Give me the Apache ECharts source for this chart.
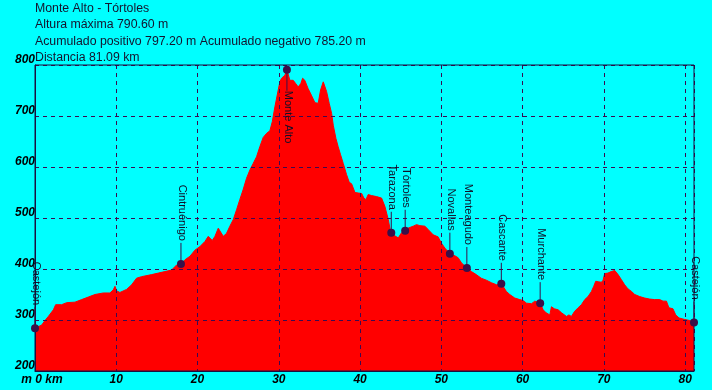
<!DOCTYPE html>
<html>
<head>
<meta charset="utf-8">
<script src="https://cdn.jsdelivr.net/npm/echarts@6/dist/echarts.min.js"></script>
<style>
html,body{margin:0;padding:0;background:#00ffff;}
#chart{width:712px;height:390px;}
</style>
</head>
<body>
<div id="chart"></div>
<script>
const titleLines = [
  'Monte Alto - Tórtoles',
  'Altura máxima 790.60 m',
  'Acumulado positivo 797.20 m Acumulado negativo 785.20 m',
  'Distancia 81.09 km'
];

// [km, elevation m]
const profile = [
[0,284],[0.82,290],[1.23,299],[1.64,307],[2.26,320],[2.54,330],[3.28,330],[3.9,334],[4.92,335],[5.74,340],[6.56,345],[7.38,350],[8.4,353],[9.22,353],[9.63,359],[9.84,366],[10.05,357],[10.45,354],[11.27,360],[11.89,369],[12.5,382],[13.12,385],[14.35,389],[15.17,392],[15.99,395],[16.81,398],[17.43,408],[17.96,410],[18.45,418],[19.07,425],[19.68,437],[20.3,444],[20.91,454],[21.32,464],[21.52,466],[21.81,456],[22.14,464],[22.55,480],[22.76,477],[23.17,464],[23.57,470],[23.98,484],[24.4,497],[24.8,516],[25.2,536],[25.6,555],[26.03,578],[26.44,594],[26.85,607],[27.26,620],[27.67,640],[28.08,658],[28.5,666],[28.9,671],[29.2,689],[29.52,718],[29.93,751],[30.13,767],[30.34,774],[30.54,774],[30.75,780],[31.0,790.6],[31.36,770],[31.77,770],[32.06,764],[32.39,757],[32.72,764],[32.93,774],[33.2,770],[33.6,754],[34.0,741],[34.45,726],[34.85,725],[35.14,751],[35.47,767],[35.67,767],[35.88,748],[36.2,725],[36.5,705],[36.7,682],[37.03,656],[37.3,640],[37.6,624],[37.93,607],[38.34,585],[38.67,570],[38.96,567],[39.37,550],[39.78,549],[40.2,548],[40.47,539],[40.72,536],[41.0,546],[41.4,544],[42.03,542],[42.65,539],[43.05,523],[43.47,497],[43.67,480],[43.84,471],[44.28,465],[44.7,461],[44.9,458],[45.1,471],[45.55,475],[45.9,480],[46.54,484],[46.95,487],[47.36,485],[47.98,484],[48.4,477],[49.0,467],[49.6,463],[50.0,451],[50.43,441],[51.05,430],[51.66,426],[52.07,422],[52.48,412],[53.14,402],[53.7,395],[54.3,389],[54.9,382],[55.55,378],[56.17,373],[56.8,369],[57.38,371],[57.6,366],[58.0,356],[58.42,350],[59.04,343],[59.65,340],[60.07,338],[60.48,333],[61.1,332],[61.5,337],[62.16,333],[62.53,320],[62.9,314],[63.35,310],[63.55,326],[63.9,322],[64.37,320],[64.8,314],[65.4,307],[65.7,310],[66.0,307],[66.2,304],[66.4,317],[66.83,324],[67.23,330],[67.65,340],[68.05,346],[68.47,356],[68.75,366],[69.0,376],[69.3,375],[69.7,374],[69.9,378],[70.1,391],[70.5,392],[70.9,395],[71.34,397],[71.54,399],[71.75,389],[72.16,379],[72.56,369],[72.97,361],[73.4,356],[73.8,350],[74.4,346],[75.03,343],[75.64,341],[76.25,340],[76.87,340],[77.28,337],[77.7,337],[78.0,324],[78.5,322],[78.84,310],[79.25,304],[79.95,301],[80.56,299],[81.09,295]
];

const waypointNames = ['Castejón','Cintruénigo','Monte Alto','Tarazona','Tórtoles','Novallas','Monteagudo','Cascante','Murchante','Castejón'];
const waypointKm    = [0, 17.96, 31.0, 43.84, 45.55, 51.05, 53.14, 57.38, 62.16, 81.09];
const waypointElev  = [284, 410, 790.6, 471, 475, 430, 402, 371, 333, 295];

const xMin = 0, xMax = 81.09, xStep = 10;
const yMin = 200, yMax = 800, yStep = 100;

const GRIDC = '#3c0a50';
const MARKC = '#3a1048';
const AXISF = '"Liberation Sans", Arial, sans-serif';

const chart = echarts.init(document.getElementById('chart'), null, {renderer: 'canvas'});

const option = {
  backgroundColor: '#00ffff',
  animation: false,
  title: {
    text: titleLines.join('\n'),
    left: 35, top: 0, padding: 0,
    textStyle: {fontFamily: AXISF, fontSize: 12.3, fontWeight: 'normal', color: '#14142e', lineHeight: 16.5}
  },
  grid: {
    left: 35, top: 65, width: 659, height: 306,
    show: true, z: 10, backgroundColor: 'transparent', borderColor: '#1a1040', borderWidth: 1
  },
  xAxis: {
    type: 'value', min: xMin, max: xMax, interval: xStep, z: 5,
    axisLine: {show: true, lineStyle: {color: '#1a1040', width: 1}},
    axisTick: {show: false},
    splitLine: {show: true, lineStyle: {color: GRIDC, type: [4, 4], width: 1}},
    axisLabel: {
      margin: 3,
      fontFamily: AXISF, fontSize: 12, fontWeight: 'bold', fontStyle: 'italic', color: '#000',
      showMaxLabel: false,
      formatter: function (v) {
        if (v === 0) return '{z|m 0 km}';
        if (Math.abs(v % xStep) > 1e-6) return '';
        return String(v);
      },
      rich: {z: {fontFamily: AXISF, fontSize: 12, fontWeight: 'bold', fontStyle: 'italic', color: '#000', padding: [0, 0, 0, 14]}}
    }
  },
  yAxis: {
    type: 'value', min: yMin, max: yMax, interval: yStep, z: 5,
    axisLine: {show: true, lineStyle: {color: '#1a1040', width: 1}},
    axisTick: {show: false},
    splitLine: {show: true, lineStyle: {color: GRIDC, type: [4, 4], width: 1}},
    axisLabel: {
      margin: 0, verticalAlign: 'bottom', lineHeight: 10,
      fontFamily: AXISF, fontSize: 12, fontWeight: 'bold', fontStyle: 'italic', color: '#000'
    }
  },
  series: [
    {
      type: 'line', data: profile, showSymbol: false, z: 2,
      lineStyle: {color: '#ff0000', width: 1},
      areaStyle: {color: '#ff0000', opacity: 1, origin: 'start'},
      silent: true
    },
    {
      type: 'custom', z: 20, clip: false,
      data: waypointKm.map((k, i) => [k, waypointElev[i]]),
      renderItem: function (params, api) {
        const p = api.coord([api.value(0), api.value(1)]);
        const name = waypointNames[params.dataIndex];
        const top = params.coordSys.y;
        const below = (p[1] - top) < 80;
        const stem = 21;
        const y2 = below ? p[1] + stem : p[1] - stem;
        return {
          type: 'group',
          children: [
            {type: 'line', shape: {x1: p[0], y1: p[1], x2: p[0], y2: y2}, style: {stroke: MARKC, lineWidth: 1}},
            {type: 'circle', shape: {cx: p[0], cy: p[1], r: 4}, style: {fill: MARKC}},
            {type: 'text', x: p[0] + 1, y: below ? y2 : y2 - 2, rotation: -Math.PI / 2,
              style: {text: name, align: below ? 'left' : 'right', verticalAlign: 'middle',
                font: '11px "Liberation Sans", Arial, sans-serif', fill: '#101028'}}
          ]
        };
      }
    }
  ]
};
chart.setOption(option);
</script>
</body>
</html>
